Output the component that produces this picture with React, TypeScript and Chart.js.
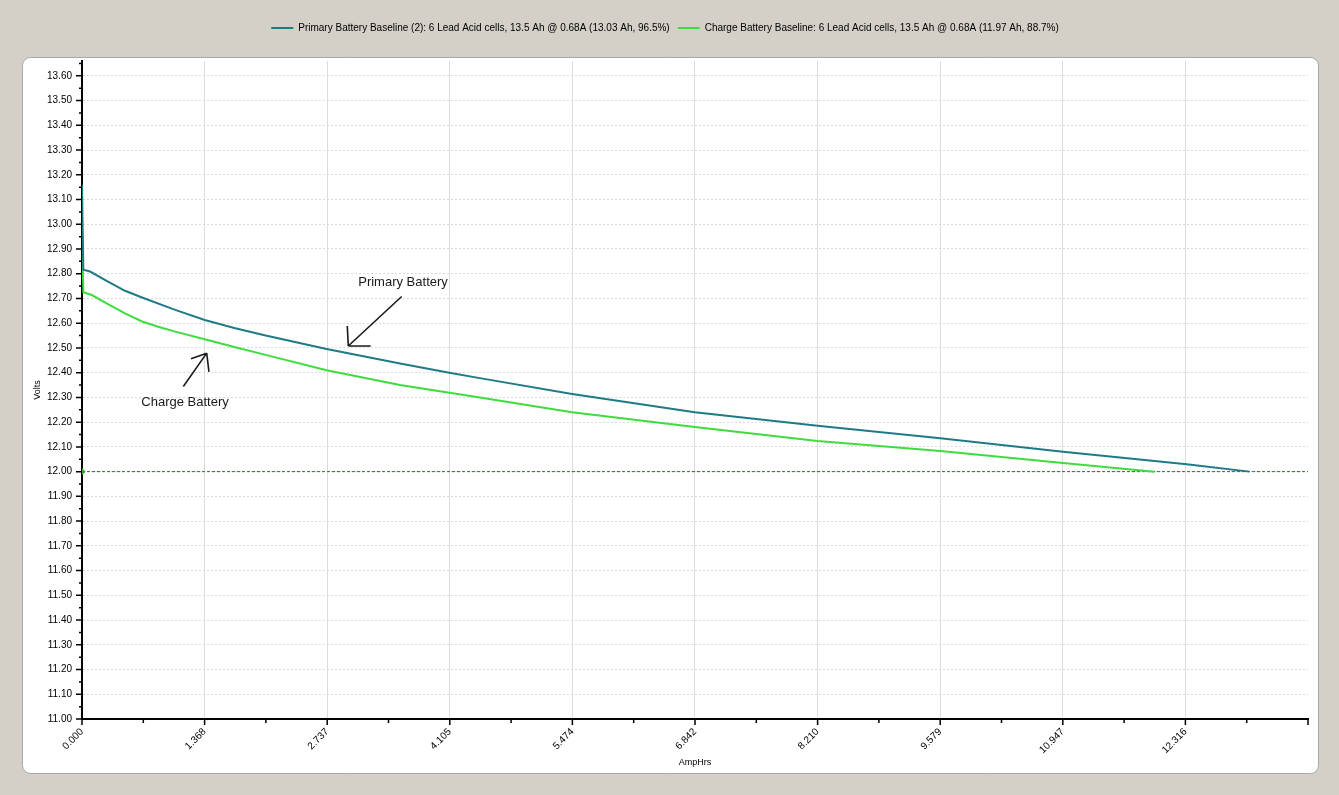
import { useEffect, useRef } from 'react';
import { Chart, registerables } from 'chart.js';

Chart.register(...registerables);

// primary battery: amp-hours drawn vs volts
const primaryAh = [0, 0.015, 0.09, 0.29, 0.48, 0.67, 1.04, 1.37, 1.71, 2.05, 2.73, 3.55, 4.1, 4.44, 5.47, 6.84, 8.21, 9.58, 10.95, 12.33, 13.03];
const primaryVolts = [13.16, 12.816, 12.809, 12.768, 12.731, 12.704, 12.654, 12.613, 12.58, 12.55, 12.496, 12.437, 12.4, 12.378, 12.314, 12.24, 12.185, 12.135, 12.08, 12.03, 12.0];

// charge battery
const chargeAh = [0, 0.015, 0.11, 0.29, 0.48, 0.67, 0.85, 1.04, 1.37, 1.71, 2.05, 2.73, 3.55, 4.44, 5.47, 6.84, 8.21, 9.58, 10.95, 11.97];
const chargeVolts = [12.97, 12.725, 12.714, 12.677, 12.64, 12.607, 12.586, 12.566, 12.535, 12.503, 12.472, 12.41, 12.35, 12.3, 12.24, 12.18, 12.124, 12.083, 12.035, 12.0];

// cut-off line
const limitAh = [0, 13.684];
const limitVolts = [12.0, 12.0];

const seriesLabels = [
  'Primary Battery Baseline (2): 6 Lead Acid cells, 13.5 Ah @ 0.68A (13.03 Ah, 96.5%)',
  'Charge Battery Baseline: 6 Lead Acid cells, 13.5 Ah @ 0.68A (11.97 Ah, 88.7%)',
];

const xStep = 0.6842;
const xMax = 13.684;
const yMin = 11.0;
const yMax = 13.66;

const FONT = "'Liberation Sans', Arial, sans-serif";

const notes = [
  { text: 'Primary Battery', at: [3.583, 12.763], from: [3.568, 12.708], to: [2.972, 12.508], head: [[2.961, 12.589], [3.222, 12.508]] },
  { text: 'Charge Battery', at: [1.15, 12.278], from: [1.131, 12.344], to: [1.392, 12.479], head: [[1.217, 12.456], [1.417, 12.403]] },
];

const toPts = (xs: number[], ys: number[]) => xs.map((x, i) => ({ x, y: ys[i] }));

const isMajorY = (v: number) => Math.round(v * 100) % 10 === 0;

const panelPlugin = {
  id: 'panel',
  beforeDraw(chart: any) {
    const { ctx, width, height } = chart;
    ctx.save();
    ctx.fillStyle = '#d4d0c8';
    ctx.fillRect(0, 0, width, height);
    ctx.beginPath();
    ctx.roundRect(22.5, 57.5, 1296, 716, 8);
    ctx.fillStyle = '#ffffff';
    ctx.fill();
    ctx.strokeStyle = '#a8a8a8';
    ctx.lineWidth = 1;
    ctx.stroke();
    ctx.restore();
  },
};

const ticksPlugin = {
  id: 'minorTicks',
  afterDraw(chart: any) {
    const { ctx, chartArea } = chart;
    const x = chart.scales.x;
    const y = chart.scales.y;
    ctx.save();
    ctx.strokeStyle = '#000';
    ctx.lineWidth = 1.5;
    ctx.beginPath();
    x.ticks.forEach((t: any, i: number) => {
      const px = x.getPixelForValue(t.value);
      const len = i % 2 === 0 ? 6 : 4;
      ctx.moveTo(px, chartArea.bottom);
      ctx.lineTo(px, chartArea.bottom + len);
    });
    y.ticks.forEach((t: any) => {
      const py = y.getPixelForValue(t.value);
      const len = isMajorY(t.value) ? 6 : 3;
      ctx.moveTo(chartArea.left, py);
      ctx.lineTo(chartArea.left - len, py);
    });
    ctx.stroke();
    ctx.restore();
  },
};

const notesPlugin = {
  id: 'notes',
  afterDatasetsDraw(chart: any) {
    const { ctx } = chart;
    const x = chart.scales.x;
    const y = chart.scales.y;
    const p = (pt: number[]) => [x.getPixelForValue(pt[0]), y.getPixelForValue(pt[1])];
    ctx.save();
    ctx.fillStyle = '#1a1a1a';
    ctx.strokeStyle = '#1a1a1a';
    ctx.lineWidth = 1.6;
    ctx.font = "13px 'Liberation Sans', Arial, sans-serif";
    ctx.textAlign = 'center';
    ctx.textBaseline = 'middle';
    notes.forEach((n) => {
      const [tx, ty] = p(n.at);
      ctx.fillText(n.text, tx, ty);
      const [fx, fy] = p(n.from);
      const [ex, ey] = p(n.to);
      ctx.beginPath();
      ctx.moveTo(fx, fy);
      ctx.lineTo(ex, ey);
      n.head.forEach((h) => {
        const [hx, hy] = p(h);
        ctx.moveTo(ex, ey);
        ctx.lineTo(hx, hy);
      });
      ctx.stroke();
    });
    ctx.restore();
  },
};

const legendSpace = {
  id: 'legendSpace',
  beforeInit(chart: any) {
    const fit = chart.legend.fit;
    chart.legend.fit = function () {
      fit.bind(this)();
      this.height += 18;
    };
  },
};

export default function App() {
  const canvasRef = useRef<HTMLCanvasElement>(null);
  const chartRef = useRef<Chart | null>(null);

  useEffect(() => {
    if (!canvasRef.current) return;
    if (chartRef.current) chartRef.current.destroy();

    chartRef.current = new Chart(canvasRef.current, {
      type: 'line',
      data: {
        datasets: [
          {
            label: seriesLabels[0],
            data: toPts(primaryAh, primaryVolts),
            borderColor: '#1e7b85',
            backgroundColor: '#1e7b85',
            borderWidth: 2,
            pointRadius: 0,
            tension: 0,
          },
          {
            label: seriesLabels[1],
            data: toPts(chargeAh, chargeVolts),
            borderColor: '#3fdc3f',
            backgroundColor: '#3fdc3f',
            borderWidth: 2,
            pointRadius: 0,
            tension: 0,
          },
          {
            label: 'limit',
            data: toPts(limitAh, limitVolts),
            borderColor: '#2d6e2d',
            backgroundColor: '#2fa82f',
            borderWidth: 1,
            borderDash: [3, 2],
            pointRadius: (c: any) => (c.dataIndex === 0 ? 3 : 0),
            pointStyle: 'rectRot',
            pointBorderColor: '#2fa82f',
            tension: 0,
          },
        ],
      },
      options: {
        responsive: false,
        animation: false,
        layout: { padding: { left: 22, right: 31, top: 15, bottom: 22 } },
        plugins: {
          tooltip: { enabled: false },
          legend: {
            position: 'top',
            labels: {
              filter: (item: any) => item.datasetIndex < 2,
              generateLabels: (chart: any) =>
                Chart.defaults.plugins.legend.labels.generateLabels(chart).map((l: any) => ({ ...l, lineWidth: 0 })),
              boxWidth: 22,
              boxHeight: 2,
              padding: 8,
              color: '#000',
              font: { size: 10, family: FONT },
            },
          },
        },
        scales: {
          x: {
            type: 'linear',
            min: 0,
            max: xMax,
            border: { color: '#000', width: 2 },
            grid: {
              color: (c: any) => (c.index % 2 === 0 && c.index > 0 && c.index < 20 ? '#dcdcdc' : 'transparent'),
              tickColor: 'transparent',
              tickLength: 6,
            },
            ticks: {
              stepSize: xStep,
              autoSkip: false,
              maxRotation: 45,
              minRotation: 45,
              padding: 1,
              color: '#000',
              font: { size: 10, family: FONT },
              callback: (v: any, i: number) => (i % 2 === 0 && i < 20 ? Number(v).toFixed(3) : ''),
            },
            title: { display: true, text: 'AmpHrs', color: '#000', font: { size: 9, family: FONT }, padding: { top: 0, bottom: 5 } },
            afterFit: (s: any) => { s.height = 54; },
          },
          y: {
            type: 'linear',
            min: yMin,
            max: yMax,
            border: { color: '#000', width: 2, dash: [2, 2] },
            grid: {
              color: (c: any) => (c.tick && isMajorY(c.tick.value) && c.index > 0 ? '#dadada' : 'transparent'),
              tickColor: 'transparent',
              tickLength: 6,
            },
            ticks: {
              stepSize: 0.05,
              includeBounds: false,
              autoSkip: false,
              padding: 4,
              color: '#000',
              font: { size: 10, family: FONT },
              callback: (v: any) => (isMajorY(Number(v)) ? Number(v).toFixed(2) : ''),
            },
            title: { display: true, text: 'Volts', color: '#000', font: { size: 9, family: FONT }, padding: { top: 10, bottom: 6 } },
            afterFit: (s: any) => { s.width = 60; },
          },
        },
      },
      plugins: [panelPlugin, ticksPlugin, notesPlugin, legendSpace],
    } as any);

    return () => {
      if (chartRef.current) {
        chartRef.current.destroy();
        chartRef.current = null;
      }
    };
  }, []);

  return (
    <div style={{ position: 'fixed', left: 0, top: 0, width: 1339, height: 795 }}>
      <canvas ref={canvasRef} width={1339} height={795} />
    </div>
  );
}
